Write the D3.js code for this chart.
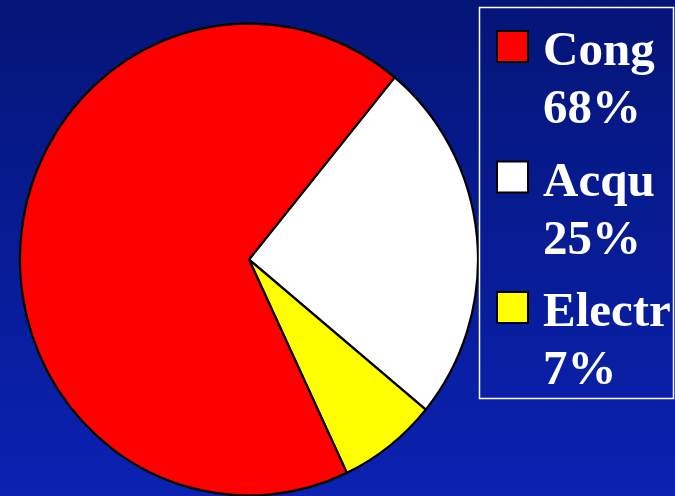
<!DOCTYPE html>
<html><head><meta charset="utf-8">
<script src="https://cdn.jsdelivr.net/npm/d3@7"></script>
<style>html,body{margin:0;padding:0;overflow:hidden;background:#061878;}</style>
</head><body>
<script>
const categories = ["Acqu", "Electr", "Cong"];
const values = [25, 7, 68];
const colors = ["#ffffff", "#ffff00", "#ff0000"];
const legendOrder = ["Cong", "Acqu", "Electr"];
const legendLabels = ["68%", "25%", "7%"];

const W = 675, H = 496;
const svg = d3.select("body").append("svg").attr("width", W).attr("height", H);
const defs = svg.append("defs");
const grad = defs.append("linearGradient").attr("id","bg").attr("x1",0).attr("y1",0).attr("x2",0).attr("y2",1);
grad.append("stop").attr("offset","0%").attr("stop-color","#041577");
grad.append("stop").attr("offset","100%").attr("stop-color","#0b22b2");
svg.append("rect").attr("width",W).attr("height",H).attr("fill","url(#bg)");

const rx = 229, ry = 236, cx = 249, cy = 259.5;
const startA = 39.5 * Math.PI / 180;
const pie = d3.pie().sort(null).value(d => d.v).startAngle(startA).endAngle(startA + 2*Math.PI);
const arcs = pie(categories.map((c,i)=>({c, v: values[i], col: colors[i]})));
const arc = d3.arc().innerRadius(0).outerRadius(rx);
const g = svg.append("g").attr("transform", `translate(${cx},${cy}) scale(1,${ry/rx})`);
g.selectAll("path").data(arcs).join("path")
  .attr("d", arc).attr("fill", d => d.data.col)
  .attr("stroke", "#000").attr("stroke-width", 2.2).attr("stroke-linejoin","round");

// legend
svg.append("rect").attr("x", 479.5).attr("y", 7.5).attr("width", 194).attr("height", 391)
  .attr("fill", "none").attr("stroke", "#ffffff").attr("stroke-width", 1.5);
const colorOf = c => colors[categories.indexOf(c)];
const lg = svg.append("g");
legendOrder.forEach((c, i) => {
  const y0 = 31 + i * 130.5;
  lg.append("rect").attr("x", 497).attr("y", y0).attr("width", 31).attr("height", 31)
    .attr("fill", colorOf(c)).attr("stroke", "#000").attr("stroke-width", 2);
  lg.append("text").attr("x", 543).attr("y", y0 + 34).text(c)
    .attr("fill","#fff").attr("font-family","'Liberation Serif', 'Times New Roman', serif")
    .attr("font-weight","bold").attr("font-size", 49);
  lg.append("text").attr("x", 543).attr("y", y0 + 92).text(legendLabels[i])
    .attr("fill","#fff").attr("font-family","'Liberation Serif', 'Times New Roman', serif")
    .attr("font-weight","bold").attr("font-size", 49);
});
</script>
</body></html>
